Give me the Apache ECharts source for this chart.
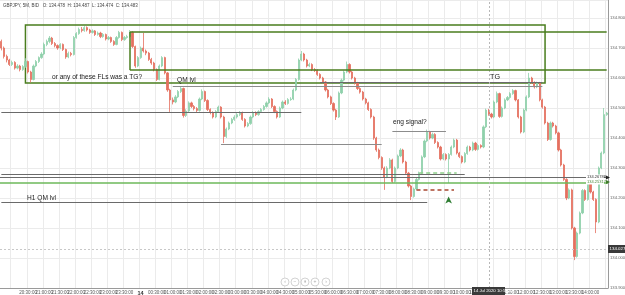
<!DOCTYPE html>
<html><head><meta charset="utf-8">
<script src="https://cdn.jsdelivr.net/npm/echarts@6/dist/echarts.min.js"></script>
<style>html,body{margin:0;padding:0;background:#fff}#c{width:625px;height:295px}</style>
</head><body><div id="c"></div>
<script>
// GBPJPY 5M candles, 13 Jul 19:40 -> 14 Jul 14:30
const opens=[134.722,134.700,134.672,134.660,134.645,134.652,134.633,134.640,134.628,134.638,
134.655,134.620,134.595,134.640,134.655,134.668,134.680,134.712,134.722,134.733,
134.715,134.708,134.700,134.712,134.695,134.670,134.682,134.678,134.735,134.748,
134.762,134.758,134.768,134.760,134.752,134.757,134.745,134.750,134.738,134.745,
134.730,134.735,134.722,134.712,134.735,134.752,134.728,134.735,134.738,134.752,
134.705,134.640,134.668,134.700,134.690,134.683,134.662,134.650,134.628,134.595,
134.640,134.668,134.617,134.560,134.527,134.520,134.537,134.555,134.565,134.475,
134.490,134.517,134.505,134.498,134.492,134.530,134.555,134.525,134.495,134.485,
134.470,134.488,134.503,134.470,134.405,134.430,134.450,134.462,134.470,134.478,
134.485,134.462,134.440,134.448,134.470,134.485,134.478,134.488,134.495,134.505,
134.517,134.530,134.505,134.488,134.470,134.500,134.520,134.515,134.528,134.530,
134.560,134.595,134.660,134.680,134.660,134.640,134.645,134.628,134.625,134.612,
134.600,134.587,134.560,134.537,134.515,134.493,134.470,134.550,134.593,134.620,
134.645,134.620,134.600,134.583,134.565,134.553,134.530,134.517,134.495,134.470,
134.400,134.360,134.335,134.300,134.270,134.300,134.327,134.255,134.300,134.340,
134.360,134.320,134.283,134.240,134.205,134.230,134.262,134.283,134.337,134.390,
134.420,134.400,134.412,134.385,134.370,134.330,134.345,134.330,134.345,134.370,
134.393,134.350,134.338,134.320,134.348,134.370,134.360,134.383,134.362,134.375,
134.370,134.437,134.493,134.480,134.470,134.520,134.548,134.472,134.500,134.527,
134.535,134.548,134.558,134.527,134.470,134.420,134.493,134.537,134.600,134.585,
134.570,134.583,134.527,134.503,134.450,134.395,134.450,134.440,134.417,134.360,
134.310,134.262,134.200,134.227,134.100,134.005,134.083,134.150,134.225,134.195,
134.248,134.220,134.195,134.120,134.300,134.350,134.478];
const closes=[134.700,134.672,134.660,134.645,134.652,134.633,134.640,134.628,134.638,134.655,
134.620,134.595,134.640,134.655,134.668,134.680,134.712,134.722,134.733,134.715,
134.708,134.700,134.712,134.695,134.670,134.682,134.678,134.735,134.748,134.762,
134.758,134.768,134.760,134.752,134.757,134.745,134.750,134.738,134.745,134.730,
134.735,134.722,134.712,134.735,134.752,134.728,134.735,134.738,134.752,134.705,
134.640,134.668,134.700,134.690,134.683,134.662,134.650,134.628,134.595,134.640,
134.668,134.617,134.560,134.527,134.520,134.537,134.555,134.565,134.475,134.490,
134.517,134.505,134.498,134.492,134.530,134.555,134.525,134.495,134.485,134.470,
134.488,134.503,134.470,134.405,134.430,134.450,134.462,134.470,134.478,134.485,
134.462,134.440,134.448,134.470,134.485,134.478,134.488,134.495,134.505,134.517,
134.530,134.505,134.488,134.470,134.500,134.520,134.515,134.528,134.530,134.560,
134.595,134.660,134.680,134.660,134.640,134.645,134.628,134.625,134.612,134.600,
134.587,134.560,134.537,134.515,134.493,134.470,134.550,134.593,134.620,134.645,
134.620,134.600,134.583,134.565,134.553,134.530,134.517,134.495,134.470,134.400,
134.360,134.335,134.300,134.270,134.300,134.327,134.255,134.300,134.340,134.360,
134.320,134.283,134.240,134.205,134.230,134.262,134.283,134.337,134.390,134.420,
134.400,134.412,134.385,134.370,134.330,134.345,134.330,134.345,134.370,134.393,
134.350,134.338,134.320,134.348,134.370,134.360,134.383,134.362,134.375,134.370,
134.437,134.493,134.480,134.470,134.520,134.548,134.472,134.500,134.527,134.535,
134.548,134.558,134.527,134.470,134.420,134.493,134.537,134.600,134.585,134.570,
134.583,134.527,134.503,134.450,134.395,134.450,134.440,134.417,134.360,134.310,
134.262,134.200,134.227,134.100,134.005,134.083,134.150,134.225,134.195,134.248,
134.220,134.195,134.120,134.300,134.350,134.478,134.483];
const highs=[134.728,134.705,134.678,134.664,134.658,134.656,134.646,134.644,134.643,134.666,
134.658,134.624,134.645,134.660,134.672,134.686,134.718,134.728,134.740,134.737,
134.720,134.712,134.716,134.715,134.698,134.688,134.687,134.740,134.753,134.768,
134.770,134.773,134.772,134.764,134.762,134.760,134.755,134.754,134.750,134.748,
134.740,134.738,134.726,134.740,134.757,134.755,134.740,134.744,134.760,134.756,
134.708,134.673,134.705,134.750,134.695,134.687,134.667,134.654,134.632,134.645,
134.673,134.671,134.620,134.564,134.535,134.543,134.560,134.572,134.568,134.496,
134.522,134.521,134.510,134.503,134.535,134.562,134.558,134.529,134.499,134.489,
134.493,134.508,134.506,134.474,134.435,134.455,134.467,134.476,134.483,134.490,
134.488,134.466,134.453,134.475,134.490,134.489,134.493,134.500,134.510,134.522,
134.536,134.533,134.509,134.492,134.505,134.525,134.526,134.533,134.536,134.565,
134.600,134.665,134.690,134.684,134.664,134.651,134.649,134.633,134.629,134.616,
134.604,134.590,134.564,134.541,134.519,134.497,134.555,134.598,134.625,134.655,
134.649,134.624,134.604,134.587,134.569,134.557,134.534,134.521,134.499,134.474,
134.404,134.365,134.339,134.305,134.306,134.333,134.331,134.305,134.345,134.366,
134.364,134.324,134.287,134.244,134.235,134.267,134.288,134.342,134.395,134.428,
134.424,134.418,134.416,134.389,134.374,134.350,134.349,134.350,134.375,134.398,
134.397,134.354,134.342,134.353,134.375,134.374,134.388,134.387,134.380,134.379,
134.442,134.498,134.497,134.484,134.525,134.555,134.551,134.505,134.532,134.540,
134.553,134.563,134.561,134.530,134.474,134.498,134.542,134.617,134.604,134.589,
134.588,134.587,134.531,134.507,134.454,134.455,134.454,134.444,134.421,134.364,
134.314,134.266,134.232,134.231,134.104,134.088,134.155,134.230,134.229,134.253,
134.252,134.224,134.199,134.305,134.355,134.500,134.487];
const lows=[134.692,134.665,134.652,134.640,134.640,134.628,134.629,134.622,134.624,134.634,
134.615,134.585,134.592,134.636,134.650,134.664,134.676,134.706,134.716,134.710,
134.702,134.694,134.696,134.690,134.664,134.666,134.672,134.675,134.731,134.744,
134.752,134.754,134.755,134.747,134.748,134.740,134.741,134.733,134.734,134.725,
134.726,134.717,134.707,134.709,134.731,134.723,134.724,134.731,134.734,134.700,
134.634,134.636,134.664,134.685,134.676,134.657,134.644,134.622,134.590,134.592,
134.636,134.612,134.554,134.487,134.512,134.516,134.533,134.550,134.468,134.470,
134.486,134.500,134.492,134.486,134.488,134.526,134.520,134.490,134.479,134.465,
134.466,134.484,134.465,134.383,134.400,134.426,134.446,134.457,134.465,134.473,
134.457,134.435,134.436,134.444,134.466,134.473,134.474,134.484,134.491,134.501,
134.513,134.500,134.483,134.465,134.467,134.496,134.510,134.511,134.524,134.526,
134.556,134.591,134.656,134.655,134.635,134.636,134.623,134.620,134.607,134.595,
134.582,134.555,134.532,134.510,134.488,134.460,134.467,134.546,134.589,134.616,
134.615,134.595,134.578,134.560,134.548,134.525,134.512,134.490,134.465,134.394,
134.354,134.329,134.294,134.227,134.266,134.296,134.250,134.251,134.296,134.336,
134.315,134.278,134.235,134.193,134.201,134.226,134.258,134.279,134.333,134.386,
134.395,134.396,134.380,134.365,134.325,134.326,134.325,134.250,134.341,134.366,
134.345,134.333,134.315,134.316,134.344,134.355,134.356,134.357,134.358,134.365,
134.366,134.433,134.474,134.465,134.466,134.516,134.467,134.468,134.496,134.523,
134.531,134.544,134.522,134.465,134.415,134.416,134.489,134.533,134.580,134.565,
134.566,134.522,134.498,134.445,134.390,134.391,134.435,134.412,134.355,134.305,
134.257,134.193,134.196,134.095,133.993,134.001,134.079,134.146,134.190,134.191,
134.215,134.190,134.083,134.116,134.296,134.346,134.474];

// time categories (5-minute bars)
const times=[];
for(let k=0;k<opens.length;k++){const m=(19*60+40+k*5)%1440;times.push(String(Math.floor(m/60)).padStart(2,'0')+':'+String(m%60).padStart(2,'0'));}

// annotation boxes: [fromTime, topPrice, toTime, bottomPrice]
const boxes=[['20:25',134.777,'12:35',134.583]];
// open-ended box reaching the price axis: [fromTime, topPrice, bottomPrice, lastTime]
const openBox=['23:40',134.753,134.627,'14:30'];
// horizontal segments: [fromTime, toTime, price, kind]
const segments=[
 ['01:00','12:30',134.573,'gray'],
 ['05:35','12:30',134.587,'dark'],
 ['19:40','05:00',134.487,'dark'],
 ['02:30','07:30',134.380,'gray'],
 ['07:50','09:30',134.423,'gray'],
 ['19:40','10:05',134.280,'dark'],
 ['08:40','09:50',134.283,'gdash'],
 ['08:35','09:45',134.227,'rdash'],
 ['19:40','08:55',134.187,'dark']
];
const fullLevels=[[134.268,'dark'],[134.253,'green']];
const lastPrice=134.027;
const cursorTime='10:50';
const signalArrow=['09:35',134.205];

const styles={
 gray:{color:'#8c8c8c',width:1,type:'solid'},
 dark:{color:'#6a6a6a',width:1,type:'solid'},
 gdash:{color:'#8fcf8a',width:1.5,type:[4,3]},
 rdash:{color:'#a8452f',width:1.5,type:[4,3]},
 green:{color:'#6db85a',width:1.5,type:'solid'},
 box:{color:'#4a7d1e',width:1.5,type:'solid'}
};

const chart=echarts.init(document.getElementById('c'),null,{renderer:'canvas'});
const isLab=(i,v)=>v.endsWith(':00')||v.endsWith(':30');
const mlData=[];
segments.forEach(s=>mlData.push([{coord:[s[0],s[2]],lineStyle:styles[s[3]]},{coord:[s[1],s[2]]}]));
fullLevels.forEach(l=>mlData.push({yAxis:l[0],lineStyle:styles[l[1]]}));
mlData.push({yAxis:lastPrice,lineStyle:{color:'#c8c8c8',width:1,type:[2,2]}});
mlData.push({xAxis:cursorTime,lineStyle:{color:'#b8b8b8',width:1,type:[2,2]}});
mlData.push([{coord:[openBox[0],openBox[1]],lineStyle:styles.box},{coord:[openBox[0],openBox[2]]}]);
mlData.push([{coord:[openBox[0],openBox[1]],lineStyle:styles.box},{coord:[openBox[3],openBox[1]]}]);
mlData.push([{coord:[openBox[0],openBox[2]],lineStyle:styles.box},{coord:[openBox[3],openBox[2]]}]);

const F='"Liberation Sans", Arial, sans-serif';
const txt=(t,x,y,s,c,extra)=>Object.assign({type:'text',x:x,y:y,silent:true,z:100,style:{text:t,fill:c||'#222',font:s+'px '+F,verticalAlign:'middle',align:'left'}},extra||{});
const navX=[285,295,305,315,326], navG=['‹','−','⏸','+','›'];
const graphics=[
 txt('GBPJPY, 5M, BID   O: 134.478  H: 134.487  L: 134.474  C: 134.483',3,6,4.5,'#444'),
 txt('or any of these FLs was a TG?',52,77,6.6,'#222'),
 txt('QM lvl',177,80,6.6,'#222'),
 txt('TG',490,77,7.2,'#222'),
 txt('eng signal?',393,122,6.6,'#222'),
 txt('H1 QM lvl',27,198,6.6,'#222'),
 {type:'rect',shape:{x:586,y:174.5,width:18,height:5},style:{fill:'#fff'},z:99},
 txt('134.26788',587,177,4,'#333'),
 {type:'rect',shape:{x:586,y:179.5,width:18,height:5},style:{fill:'#fff'},z:99},
 txt('134.25317',587,182,4,'#4a8a3a'),
 {type:'polygon',shape:{points:[[606,175.5],[610,177.5],[606,179.5]]},style:{fill:'#222'},z:101},
 {type:'polygon',shape:{points:[[606,180],[610,182],[606,184]]},style:{fill:'#3e7a2a'},z:101},
 {type:'rect',shape:{x:608,y:245,width:17,height:8},style:{fill:'#3a3a3a'},z:101},
 txt('134.027',609.5,249,4.4,'#fff',{z:102}),
 {type:'rect',shape:{x:472,y:287,width:33,height:8},style:{fill:'#3a3a3a'},z:101},
 txt('14 Jul 2020 10:50:44',473.5,291,4.3,'#fff',{z:102})
];
navX.forEach((x,k)=>{
 graphics.push({type:'circle',shape:{cx:x,cy:282,r:4},style:{fill:'#fff',stroke:'#c8c8c8',lineWidth:0.8},z:100});
 graphics.push({type:'text',x:x,y:282,z:101,style:{text:navG[k],fill:'#aaa',font:'5px '+F,align:'center',verticalAlign:'middle'}});
});

chart.setOption({
 animation:false,
 grid:{left:0,right:17,top:0,bottom:7,outerBoundsMode:'none',containLabel:false},
 xAxis:{type:'category',data:times,boundaryGap:true,
  axisLine:{lineStyle:{color:'#9a9a9a'}},axisTick:{show:false},
  axisLabel:{interval:isLab,fontSize:4.5,color:'#555',margin:2,fontFamily:F,hideOverlap:false,
   formatter:v=>v==='00:00'?'{b|14}':v+':00',rich:{b:{fontSize:5.5,fontWeight:'bold',color:'#333'}}},
  splitLine:{show:true,interval:isLab,lineStyle:{color:'#ebebeb',width:1}}},
 yAxis:{type:'value',position:'right',min:133.9,max:134.86,interval:0.1,scale:true,
  axisLine:{show:true,lineStyle:{color:'#9a9a9a'}},axisTick:{show:false},
  axisLabel:{fontSize:4.2,color:'#666',margin:2,showMaxLabel:false,showMinLabel:true,fontFamily:F,formatter:v=>v.toFixed(3)},
  splitLine:{lineStyle:{color:'#ebebeb',width:1}}},
 series:[{
  type:'candlestick',
  data:opens.map((o,i)=>[o,closes[i],lows[i],highs[i]]),
  barWidth:1.7,
  itemStyle:{color:'#8fd0ab',color0:'#e5705f',borderColor:'#8fd0ab',borderColor0:'#e5705f',borderWidth:0.8},
  markArea:{silent:true,label:{show:false},
   itemStyle:{color:'rgba(0,0,0,0)',borderColor:'#4a7d1e',borderWidth:1.5},
   data:boxes.map(b=>[{coord:[b[0],b[1]]},{coord:[b[2],b[3]]}])},
  markLine:{silent:true,symbol:['none','none'],label:{show:false},data:mlData},
  markPoint:{silent:true,label:{show:false},
   data:[{coord:signalArrow,symbol:'arrow',symbolSize:[5,7],itemStyle:{color:'#2e7d32'}}]}
 }],
 graphic:graphics
});
</script></body></html>
